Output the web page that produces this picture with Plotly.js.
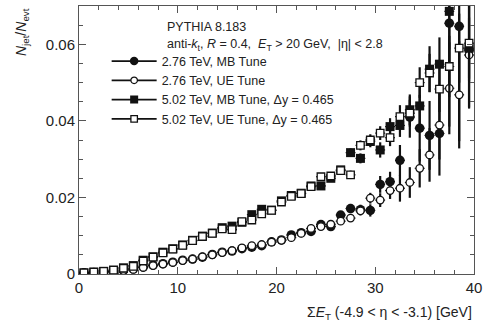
<!DOCTYPE html>
<html>
<head>
<meta charset="utf-8">
<script src="https://cdn.plot.ly/plotly-3.0.1.min.js"></script>
<style>html,body{margin:0;padding:0;background:#fff;}#plot{width:484px;height:323px;}</style>
</head>
<body>
<div id="plot"></div>
<script>
// Bin centres of sum E_T (GeV)
const sumET = [0.5,1.5,2.5,3.5,4.5,5.5,6.5,7.5,8.5,9.5,10.5,11.5,12.5,13.5,14.5,15.5,16.5,17.5,18.5,19.5,
               20.5,21.5,22.5,23.5,24.5,25.5,26.5,27.5,28.5,29.5,30.5,31.5,32.5,33.5,34.5,35.5,36.5,37.5,38.5,39.5];

// 2.76 TeV, MB Tune
const mb276 = [0.0003,0.0004,0.0005,0.0007,0.0009,0.0013,0.0018,0.0023,0.0027,0.0031,0.0036,0.0039,0.0044,0.0051,0.0057,0.0060,0.0066,0.0070,0.0074,0.0084,
               0.0089,0.0102,0.0108,0.0111,0.0129,0.0124,0.0154,0.0171,0.0168,0.0166,0.0234,0.0241,0.0297,0.0410,0.0381,0.0362,0.0367,0.0655,0.0647,0.0585];
const mb276Err = [0,0,0,0,0,0,0,0,0,0.0001,0.0001,0.0001,0.0001,0.0001,0.0002,0.0002,0.0002,0.0002,0.0003,0.0003,
               0.0003,0.0004,0.0004,0.0005,0.0006,0.0007,0.0008,0.0012,0.0013,0.0016,0.0022,0.0026,0.0040,0.0054,0.0087,0.0090,0.0110,0.0270,0.0300,0.0150];

// 2.76 TeV, UE Tune
const ue276 = [0.0003,0.0004,0.0005,0.0007,0.0009,0.0012,0.0017,0.0022,0.0026,0.0030,0.0035,0.0039,0.0045,0.0050,0.0056,0.0061,0.0068,0.0074,0.0077,0.0083,
               0.0088,0.0095,0.0106,0.0119,0.0124,0.0130,0.0138,0.0146,0.0165,0.0198,0.0193,0.0218,0.0224,0.0239,0.0276,0.0311,0.0389,0.0485,0.0468,0.0572];
const ue276Err = [0,0,0,0,0,0,0,0,0,0.0001,0.0001,0.0001,0.0001,0.0001,0.0002,0.0002,0.0002,0.0002,0.0003,0.0003,
               0.0003,0.0004,0.0004,0.0005,0.0006,0.0007,0.0008,0.0010,0.0012,0.0014,0.0018,0.0022,0.0035,0.0040,0.0050,0.0070,0.0090,0.0120,0.0140,0.0140];

// 5.02 TeV, MB Tune, dy = 0.465
const mb502 = [0.0003,0.0005,0.0007,0.0010,0.0016,0.0022,0.0036,0.0045,0.0057,0.0066,0.0076,0.0088,0.0099,0.0107,0.0121,0.0125,0.0135,0.0155,0.0169,0.0167,
               0.0191,0.0205,0.0211,0.0230,0.0230,0.0250,0.0272,0.0317,0.0302,0.0346,0.0324,0.0385,0.0388,0.0429,0.0439,0.0535,0.0548,0.0686,null,0.0590];
const mb502Err = [0,0,0,0,0,0,0,0,0.0001,0.0001,0.0001,0.0001,0.0001,0.0002,0.0002,0.0002,0.0003,0.0003,0.0003,0.0004,
               0.0004,0.0005,0.0005,0.0006,0.0007,0.0008,0.0009,0.0011,0.0013,0.0015,0.0020,0.0022,0.0030,0.0040,0.0050,0.0060,0.0070,0.0100,0,0.0080];

// 5.02 TeV, UE Tune, dy = 0.465
const ue502 = [0.0003,0.0005,0.0007,0.0010,0.0015,0.0020,0.0034,0.0044,0.0055,0.0065,0.0075,0.0087,0.0098,0.0106,0.0118,0.0116,0.0137,0.0141,0.0157,0.0166,
               0.0188,0.0203,0.0210,0.0228,0.0254,0.0256,0.0270,0.0259,0.0336,0.0350,0.0368,0.0356,0.0411,0.0420,0.0500,0.0525,0.0483,0.0542,0.0590,0.0603];
const ue502Err = [0,0,0,0,0,0,0,0,0.0001,0.0001,0.0001,0.0001,0.0001,0.0002,0.0002,0.0002,0.0003,0.0003,0.0003,0.0004,
               0.0004,0.0005,0.0005,0.0006,0.0007,0.0008,0.0009,0.0011,0.0013,0.0015,0.0018,0.0022,0.0030,0.0035,0.0040,0.0050,0.0060,0.0080,0.0090,0.0100];

const seriesNames = ['2.76 TeV, MB Tune','2.76 TeV, UE Tune','5.02 TeV, MB Tune, Δy = 0.465','5.02 TeV, UE Tune, Δy = 0.465'];
const yTickVals = [0, 0.02, 0.04, 0.06];
const yTickText = ['0', '0.02', '0.04', '0.06'];
const binHalfWidth = sumET.map(() => 0.5);

const ink = '#111';
function marker(sym, filled, size){
  return {symbol: sym, size: size, color: filled ? ink : '#fff', line: {color: ink, width: filled ? 0 : 1.3}};
}
function dataTrace(y, err, mk){
  return {
    x: sumET, y: y, type: 'scatter', mode: 'markers', showlegend: false, cliponaxis: true,
    marker: mk,
    error_y: {type: 'data', array: err, visible: true, color: ink, thickness: 2.2, width: 0},
    error_x: {type: 'data', array: binHalfWidth, visible: true, color: ink, thickness: 1.2, width: 0},
    hoverinfo: 'skip'
  };
}
function legendTrace(name, mk){
  return {x: [null], y: [null], type: 'scatter', mode: 'lines+markers', name: name,
          line: {color: ink, width: 1.8}, marker: Object.assign({}, mk, {size: mk.size - 1})};
}
const mks = [marker('circle', true, 9.5), marker('circle', false, 7.5), marker('square', true, 9), marker('square', false, 7.5)];
const ys = [mb276, ue276, mb502, ue502];
const es = [mb276Err, ue276Err, mb502Err, ue502Err];

const traces = [];
for (let i = 0; i < 4; i++) traces.push(dataTrace(ys[i], es[i], mks[i]));
for (let i = 0; i < 4; i++) traces.push(legendTrace(seriesNames[i], mks[i]));

const font = {family: 'Liberation Sans, Arial, sans-serif', color: '#222'};
const axisCommon = {
  showline: true, mirror: 'allticks', linecolor: '#555', linewidth: 1,
  ticks: 'inside', tickcolor: '#555', ticklen: 7, tickwidth: 1,
  showgrid: false, zeroline: false,
  tickfont: Object.assign({size: 15}, font)
};

const layout = {
  width: 484, height: 323,
  margin: {l: 79, r: 10, t: 6, b: 49},
  paper_bgcolor: '#fff', plot_bgcolor: '#fff',
  font: font,
  xaxis: Object.assign({}, axisCommon, {range: [0, 40], dtick: 10, tick0: 0,
    minor: {dtick: 2, ticks: 'inside', ticklen: 4, tickcolor: '#555', showgrid: false}}),
  yaxis: Object.assign({}, axisCommon, {range: [0, 0.07], tickmode: 'array', tickvals: yTickVals, ticktext: yTickText,
    minor: {dtick: 0.005, tick0: 0, ticks: 'inside', ticklen: 4, tickcolor: '#555', showgrid: false}}),
  showlegend: true,
  legend: {x: 0.07, y: 0.849, xanchor: 'left', yanchor: 'top', bgcolor: 'rgba(0,0,0,0)',
           font: Object.assign({size: 12.5}, font), tracegroupgap: 0, itemwidth: 45},
  annotations: [
    {xref: 'paper', yref: 'paper', x: 0.218, y: 0.922, xanchor: 'left', yanchor: 'middle', showarrow: false,
     text: 'PYTHIA 8.183', font: Object.assign({size: 12.5}, font)},
    {xref: 'paper', yref: 'paper', x: 0.218, y: 0.855, xanchor: 'left', yanchor: 'middle', showarrow: false,
     text: 'anti-<i>k</i><sub>t</sub>, <i>R</i> = 0.4,  <i>E</i><sub>T</sub> &gt; 20 GeV,  |η| &lt; 2.8', font: Object.assign({size: 12.5}, font)},
    {xref: 'paper', yref: 'paper', x: 1, y: -0.146, xanchor: 'right', yanchor: 'middle', showarrow: false,
     text: 'Σ<i>E</i><sub>T</sub> (-4.9 &lt; η &lt; -3.1) [GeV]', font: Object.assign({size: 14}, font)},
    {xref: 'paper', yref: 'paper', x: -0.144, y: 1, xanchor: 'center', yanchor: 'top', showarrow: false, textangle: -90,
     text: '<i>N</i><sub>jet</sub>/<i>N</i><sub>evt</sub>', font: Object.assign({size: 14}, font)}
  ]
};

Plotly.newPlot('plot', traces, layout, {staticPlot: true, displayModeBar: false});
</script>
</body>
</html>
